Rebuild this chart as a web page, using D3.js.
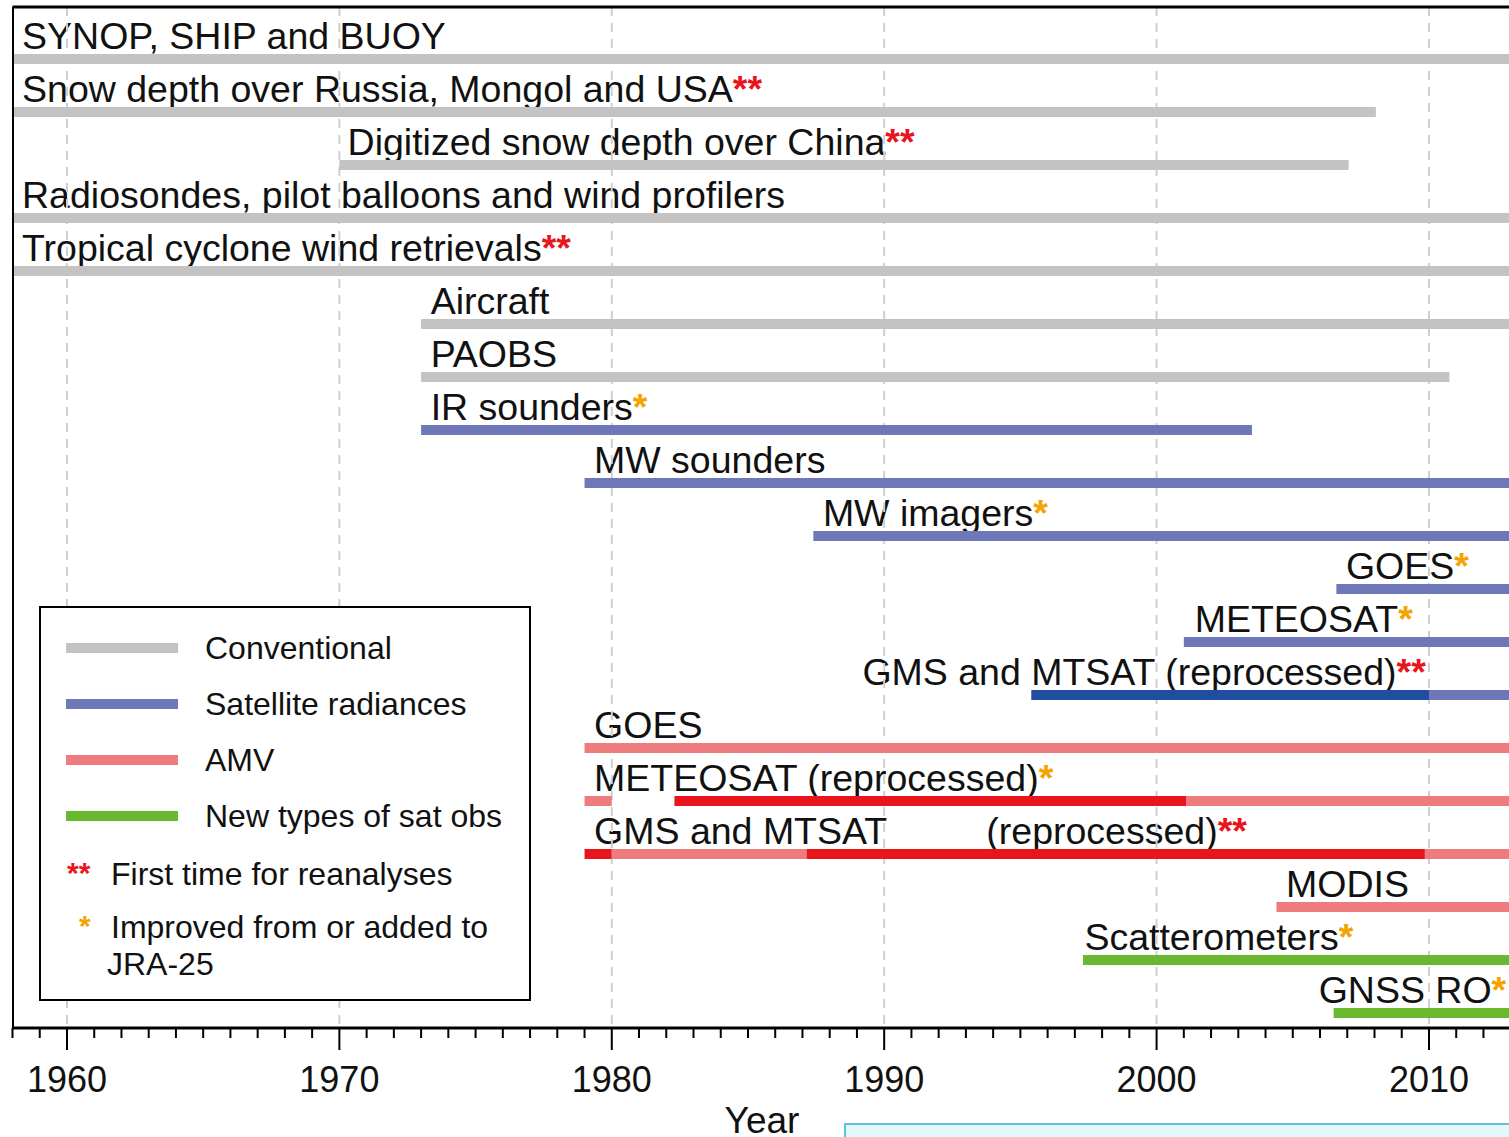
<!DOCTYPE html>
<html>
<head>
<meta charset="utf-8">
<script src="https://cdn.jsdelivr.net/npm/d3@7"></script>
<style>
  body { margin: 0; background: #fff; overflow: hidden; }
  svg { display: block; font-family: "Liberation Sans", Arial, sans-serif; }
</style>
</head>
<body>
<div id="chart"></div>
<script>
// one row per observation type, top to bottom
const rowNames = [
    'SYNOP, SHIP and BUOY', 'Snow depth over Russia, Mongol and USA', 'Digitized snow depth over China',
    'Radiosondes, pilot balloons and wind profilers', 'Tropical cyclone wind retrievals', 'Aircraft', 'PAOBS',
    'IR sounders', 'MW sounders', 'MW imagers', 'GOES', 'METEOSAT', 'GMS and MTSAT (reprocessed)',
    'GOES', 'METEOSAT (reprocessed)', 'GMS and MTSAT', 'MODIS', 'Scatterometers', 'GNSS RO'
]

// labels: [row, year where text starts, text, mark]
const labels = [
    [0, 1958.35, 'SYNOP, SHIP and BUOY', ''],
    [1, 1958.35, 'Snow depth over Russia, Mongol and USA', '**'],
    [2, 1970.3, 'Digitized snow depth over China', '**'],
    [3, 1958.35, 'Radiosondes, pilot balloons and wind profilers', ''],
    [4, 1958.35, 'Tropical cyclone wind retrievals', '**'],
    [5, 1973.35, 'Aircraft', ''],
    [6, 1973.35, 'PAOBS', ''],
    [7, 1973.35, 'IR sounders', '*'],
    [8, 1979.35, 'MW sounders', ''],
    [9, 1987.75, 'MW imagers', '*'],
    [10, 2006.95, 'GOES', '*'],
    [11, 2001.4, 'METEOSAT', '*'],
    [12, 1989.2, 'GMS and MTSAT (reprocessed)', '**'],
    [13, 1979.35, 'GOES', ''],
    [14, 1979.35, 'METEOSAT (reprocessed)', '*'],
    [15, 1979.35, 'GMS and MTSAT', ''],
    [15, 1993.75, '(reprocessed)', '**'],
    [16, 2004.75, 'MODIS', ''],
    [17, 1997.35, 'Scatterometers', '*'],
    [18, 2005.95, 'GNSS RO', '*']
]

// bar segments: [row, start year, end year, kind]
const segments = [
    [0, 1958, 2013, 'conv'],
    [1, 1958, 2008.05, 'conv'],
    [2, 1970, 2007.05, 'conv'],
    [3, 1958, 2013, 'conv'],
    [4, 1958, 2013, 'conv'],
    [5, 1973, 2013, 'conv'],
    [6, 1973, 2010.75, 'conv'],
    [7, 1973, 2003.5, 'sat'],
    [8, 1979, 2013, 'sat'],
    [9, 1987.4, 2013, 'sat'],
    [10, 2006.6, 2013, 'sat'],
    [11, 2001, 2013, 'sat'],
    [12, 1995.4, 2010, 'satRe'],
    [12, 2010, 2013, 'sat'],
    [13, 1979, 2013, 'amv'],
    [14, 1979, 1980, 'amv'],
    [14, 1982.3, 2001.1, 'amvRe'],
    [14, 2001.1, 2013, 'amv'],
    [15, 1979, 1980, 'amvRe'],
    [15, 1980, 1987.15, 'amv'],
    [15, 1987.15, 2009.85, 'amvRe'],
    [15, 2009.85, 2013, 'amv'],
    [16, 2004.4, 2013, 'amv'],
    [17, 1997.3, 2013, 'new'],
    [18, 2006.5, 2013, 'new']
]

const legendNames = ['Conventional', 'Satellite radiances', 'AMV', 'New types of sat obs']
const legendKinds = ['conv', 'sat', 'amv', 'new']
const decades = [1960, 1970, 1980, 1990, 2000, 2010]
const years = d3.range(1958, 2014)

const colors = {
    conv: '#c3c3c3', sat: '#6e77b8', satRe: '#1f4ea0',
    amv: '#ee7b7d', amvRe: '#e8151d', new: '#6ab82e'
}
const markColors = { '**': '#e8151d', '*': '#f5a300' }

const W = 1509
const H = 1137
const leftX = 12.5
const topY = 7
const axisY = 1028

const x = d3.scaleLinear().domain([1958, 2013]).range([leftX, 1510.7])
const y = d3.scalePoint().domain(d3.range(rowNames.length)).range([59, 1013])

const svg = d3.select('#chart').append('svg')
    .attr('width', W)
    .attr('height', H)

// labels (drawn first, grid goes over them)
const lab = svg.append('g').selectAll('text')
    .data(labels)
    .enter()
    .append('text')
    .attr('x', (d) => x(d[1]))
    .attr('y', (d) => y(d[0]) - 10)
    .attr('font-size', 37.5)
    .attr('fill', '#111')
lab.append('tspan').text((d) => d[2])
lab.append('tspan')
    .attr('fill', (d) => markColors[d[3]] || '#000')
    .attr('font-weight', 'bold')
    .text((d) => d[3])

// dashed decade grid
svg.append('g').selectAll('line')
    .data(decades)
    .enter()
    .append('line')
    .attr('x1', (d) => x(d))
    .attr('x2', (d) => x(d))
    .attr('y1', topY)
    .attr('y2', axisY)
    .attr('stroke', '#cfcfcf')
    .attr('stroke-width', 2)
    .attr('stroke-dasharray', '9,7')

// bars
svg.append('g').selectAll('rect')
    .data(segments)
    .enter()
    .append('rect')
    .attr('x', (d) => x(d[1]))
    .attr('width', (d) => x(d[2]) - x(d[1]))
    .attr('y', (d) => y(d[0]) - 5)
    .attr('height', 10)
    .attr('fill', (d) => colors[d[3]])

// frame: top and left
svg.append('line')
    .attr('x1', leftX).attr('x2', W).attr('y1', topY).attr('y2', topY)
    .attr('stroke', '#000').attr('stroke-width', 3)
svg.append('line')
    .attr('x1', leftX + 0.5).attr('x2', leftX + 0.5).attr('y1', topY).attr('y2', axisY)
    .attr('stroke', '#000').attr('stroke-width', 2)

// x axis with yearly minor ticks
const axis = svg.append('g').attr('transform', `translate(0, ${axisY})`)
axis.append('line')
    .attr('x1', leftX).attr('x2', W)
    .attr('stroke', '#000').attr('stroke-width', 3)
axis.selectAll('line.tick')
    .data(years)
    .enter()
    .append('line')
    .attr('class', 'tick')
    .attr('x1', (d) => x(d))
    .attr('x2', (d) => x(d))
    .attr('y1', 0)
    .attr('y2', (d) => d % 10 === 0 ? 22 : 10)
    .attr('stroke', '#000')
    .attr('stroke-width', 2)
axis.selectAll('text')
    .data(decades)
    .enter()
    .append('text')
    .attr('x', (d) => x(d))
    .attr('y', 64)
    .attr('text-anchor', 'middle')
    .attr('font-size', 36)
    .attr('fill', '#111')
    .text((d) => d)

svg.append('text')
    .attr('x', 762)
    .attr('y', 1133)
    .attr('text-anchor', 'middle')
    .attr('font-size', 37)
    .attr('fill', '#111')
    .text('Year')

// edge of the next panel peeking in at the bottom
svg.append('rect')
    .attr('x', 845).attr('y', 1124)
    .attr('width', 700).attr('height', 40)
    .attr('fill', '#e4f7fd')
    .attr('stroke', '#5cc3e0')
    .attr('stroke-width', 2)

// legend
const lg = svg.append('g')
lg.append('rect')
    .attr('x', 40).attr('y', 607)
    .attr('width', 490).attr('height', 393)
    .attr('fill', '#fff')
    .attr('stroke', '#000')
    .attr('stroke-width', 2)
const ly = d3.scalePoint().domain(d3.range(legendNames.length)).range([648, 816])
lg.selectAll('rect.key')
    .data(legendKinds)
    .enter()
    .append('rect')
    .attr('class', 'key')
    .attr('x', 66)
    .attr('width', 112)
    .attr('y', (d, i) => ly(i) - 5)
    .attr('height', 10)
    .attr('fill', (d) => colors[d])
lg.selectAll('text.name')
    .data(legendNames)
    .enter()
    .append('text')
    .attr('class', 'name')
    .attr('x', 205)
    .attr('y', (d, i) => ly(i) + 11)
    .attr('font-size', 32)
    .attr('fill', '#111')
    .text((d) => d)

lg.append('text')
    .attr('x', 67).attr('y', 883)
    .attr('font-size', 30)
    .attr('font-weight', 'bold')
    .attr('fill', markColors['**'])
    .text('**')
lg.append('text')
    .attr('x', 111).attr('y', 885)
    .attr('font-size', 32)
    .attr('fill', '#111')
    .text('First time for reanalyses')
lg.append('text')
    .attr('x', 79).attr('y', 936)
    .attr('font-size', 30)
    .attr('font-weight', 'bold')
    .attr('fill', markColors['*'])
    .text('*')
lg.append('text')
    .attr('x', 111).attr('y', 938)
    .attr('font-size', 32)
    .attr('fill', '#111')
    .text('Improved from or added to')
lg.append('text')
    .attr('x', 107).attr('y', 975)
    .attr('font-size', 32)
    .attr('fill', '#111')
    .text('JRA-25')
</script>
</body>
</html>
